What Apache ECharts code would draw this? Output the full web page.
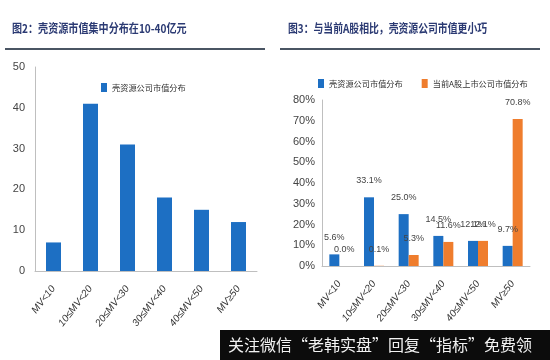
<!DOCTYPE html>
<html>
<head>
<meta charset="utf-8">
<script src="https://cdn.jsdelivr.net/npm/echarts@6/dist/echarts.min.js"></script>
<style>html,body{margin:0;padding:0;background:#fff;}#c{width:550px;height:360px;}</style>
</head>
<body>
<div id="c"></div>
<script>
const categories = ['MV<10', '10≤MV<20', '20≤MV<30', '30≤MV<40', '40≤MV<50', 'MV≥50'];
const shellCounts = [7, 41, 31, 18, 15, 12];
const shellPct = [5.6, 33.1, 25.0, 14.5, 12.1, 9.7];
const aSharePct = [0.0, 0.1, 5.3, 11.6, 12.1, 70.8];
const leftTicks = [0, 10, 20, 30, 40, 50];
const rightTicks = [0, 10, 20, 30, 40, 50, 60, 70, 80];

const BLUE = '#1d6fc3', ORANGE = '#ef7d2d';
const narrow = '"Liberation Sans Narrow", "Liberation Sans", Arial, sans-serif';
const cjk = '"Noto Sans CJK SC", sans-serif';

const chart = echarts.init(document.getElementById('c'), null, {renderer: 'canvas'});

const axisLabelX = {
  rotate: 52, fontSize: 10, fontStyle: 'italic', color: '#333', fontFamily: narrow, margin: 16, interval: 0
};

chart.setOption({
  animation: false,
  backgroundColor: '#fff',
  grid: [
    {left: 35, right: 293, top: 67, bottom: 89},
    {left: 322, right: 20, top: 100, bottom: 94}
  ],
  legend: [
    {data: ['壳资源公司市值分布'], orient: 'horizontal', left: 96, top: 78, width: 160, itemWidth: 6, itemHeight: 9, icon: 'rect',
     textStyle: {fontSize: 8.2, color: '#333', fontFamily: cjk}},
    {data: ['壳资源公司市值分布', '当前A股上市公司市值分布'], orient: 'horizontal', left: 313, top: 74, width: 235, itemWidth: 6, itemHeight: 9, icon: 'rect', itemGap: 19,
     textStyle: {fontSize: 8.2, color: '#333', fontFamily: cjk}}
  ],
  xAxis: [
    {type: 'category', gridIndex: 0, data: categories,
     axisLine: {lineStyle: {color: '#bfbfbf'}}, axisTick: {lineStyle: {color: '#bfbfbf'}, length: 4},
     axisLabel: axisLabelX},
    {type: 'category', gridIndex: 1, data: categories,
     axisLine: {lineStyle: {color: '#bfbfbf'}}, axisTick: {lineStyle: {color: '#bfbfbf'}, length: 4},
     axisLabel: axisLabelX}
  ],
  yAxis: [
    {type: 'value', gridIndex: 0, min: leftTicks[0], max: leftTicks[leftTicks.length - 1], interval: 10,
     axisLine: {show: true, lineStyle: {color: '#bfbfbf'}}, axisTick: {show: false}, splitLine: {show: false},
     axisLabel: {fontSize: 11, color: '#444', fontFamily: narrow, margin: 10}},
    {type: 'value', gridIndex: 1, min: rightTicks[0], max: rightTicks[rightTicks.length - 1], interval: 10,
     axisLine: {show: true, lineStyle: {color: '#bfbfbf'}}, axisTick: {show: false}, splitLine: {show: false},
     axisLabel: {fontSize: 11, color: '#444', fontFamily: narrow, margin: 7, formatter: v => v + '%'}}
  ],
  series: [
    {type: 'bar', name: '壳资源公司市值分布', xAxisIndex: 0, yAxisIndex: 0, data: shellCounts,
     barWidth: 15, itemStyle: {color: BLUE}},
    {type: 'bar', name: '壳资源公司市值分布', xAxisIndex: 1, yAxisIndex: 1, data: shellPct,
     barWidth: 10, barGap: '0%', itemStyle: {color: BLUE},
     label: {show: true, position: 'top', distance: 12, fontSize: 9, color: '#444', fontFamily: narrow,
             formatter: p => p.value.toFixed(1) + '%'}},
    {type: 'bar', name: '当前A股上市公司市值分布', xAxisIndex: 1, yAxisIndex: 1, data: aSharePct,
     barWidth: 10, barGap: '0%', itemStyle: {color: ORANGE},
     label: {show: true, position: 'top', distance: 12, fontSize: 9, color: '#444', fontFamily: narrow,
             formatter: p => p.value.toFixed(1) + '%'}}
  ],
  graphic: [
    {type: 'text', left: 12, top: 22, scaleX: 0.84, z: 10,
     style: {text: '图2：壳资源市值集中分布在10-40亿元', font: 'bold 12px "Noto Sans CJK SC", sans-serif', fill: '#2b3a73'}},
    {type: 'text', left: 288, top: 22, scaleX: 0.82, z: 10,
     style: {text: '图3：与当前A股相比，壳资源公司市值更小巧', font: 'bold 12px "Noto Sans CJK SC", sans-serif', fill: '#2b3a73'}},
    {type: 'rect', shape: {x: 5, y: 48, width: 260, height: 2}, style: {fill: '#4a5563'}, z: 10},
    {type: 'rect', shape: {x: 280, y: 48, width: 260, height: 2}, style: {fill: '#4a5563'}, z: 10},
    {type: 'rect', shape: {x: 220, y: 330, width: 330, height: 30}, style: {fill: '#0c0c0c'}, z: 100},
    {type: 'text', x: 228, y: 345, z: 101,
     style: {text: '关注微信“老韩实盘”回复“指标”免费领', font: '16px "Noto Sans CJK SC", sans-serif', fill: '#f2f2f2', verticalAlign: 'middle'}}
  ]
});
</script>
</body>
</html>
